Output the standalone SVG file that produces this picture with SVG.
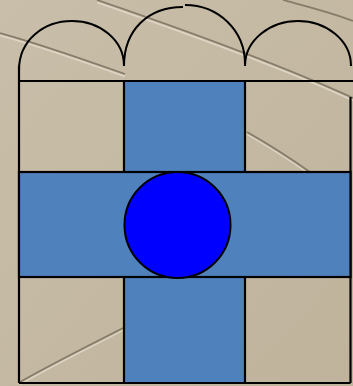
<svg xmlns="http://www.w3.org/2000/svg" width="353" height="386" viewBox="0 0 353 386">
<defs>
<style>
.grid{stroke:#000;stroke-width:2.2;fill:none}
.cell{fill:#4f81bd}
.arch{stroke:#000;stroke-width:2;fill:none}
.crack{stroke:#7a705e;stroke-width:1.8;fill:none;opacity:0.85}
.hl{stroke:#e2dacb;stroke-width:1.4;fill:none;opacity:0.85}
</style>
<linearGradient id="bg" x1="0" y1="0" x2="1" y2="1">
<stop offset="0" stop-color="#c9bea9"/>
<stop offset="1" stop-color="#bfb39c"/>
</linearGradient>
</defs>
<g id="background">
<rect x="0" y="0" width="353" height="386" fill="url(#bg)"/>
<path class="crack" d="M0,33 C40,44 80,58 125,74"/>
<path class="hl" d="M0,35.5 C40,46.5 80,60.5 125,76.5"/>
<path class="crack" d="M97,0 C170,25 270,60 353,98"/>
<path class="hl" d="M97,2.5 C170,27.5 270,62.5 353,100.5"/>
<path class="crack" d="M283,0 C305,6 330,12 353,21"/>
<path class="crack" d="M247,132 C270,145 290,158 310,172"/>
<path class="hl" d="M247,134.5 C270,147.5 290,160.5 310,174.5"/>
<path class="crack" d="M20,382 C55,362 90,345 123,328"/>
<path class="hl" d="M20,384.5 C55,364.5 90,347.5 123,330.5"/>
</g>
<g id="column">
<rect class="cell" x="124" y="81" width="121" height="302"/>
</g>
<g id="grid">
<line class="grid" x1="19" y1="81" x2="353" y2="81"/>
<line class="grid" x1="19" y1="66" x2="19" y2="383"/>
<line class="grid" x1="350.5" y1="97" x2="350.5" y2="383"/>
<line class="grid" x1="124" y1="81" x2="124" y2="383"/>
<line class="grid" x1="245" y1="81" x2="245" y2="383"/>
<line class="grid" x1="19" y1="383" x2="350.5" y2="383"/>
</g>
<g id="band">
<rect class="cell" x="19" y="172" width="331.5" height="105" stroke="#000" stroke-width="2.2"/>
</g>
<g id="arches">
<path class="arch" d="M19,70 C19,40 44,21 72,21 C100,21 124,40 124,66"/>
<path class="arch" d="M124,66 C124,30 148,7 183,7"/>
<path class="arch" d="M185,5 C218,5 245,30 245,64"/>
<path class="arch" d="M245,66 C245,40 270,21 298,21 C326,21 351,40 351,66"/>
</g>
<g id="circle">
<circle cx="177.5" cy="225" r="53" fill="#0000ff" stroke="#000" stroke-width="2"/>
</g>
</svg>
